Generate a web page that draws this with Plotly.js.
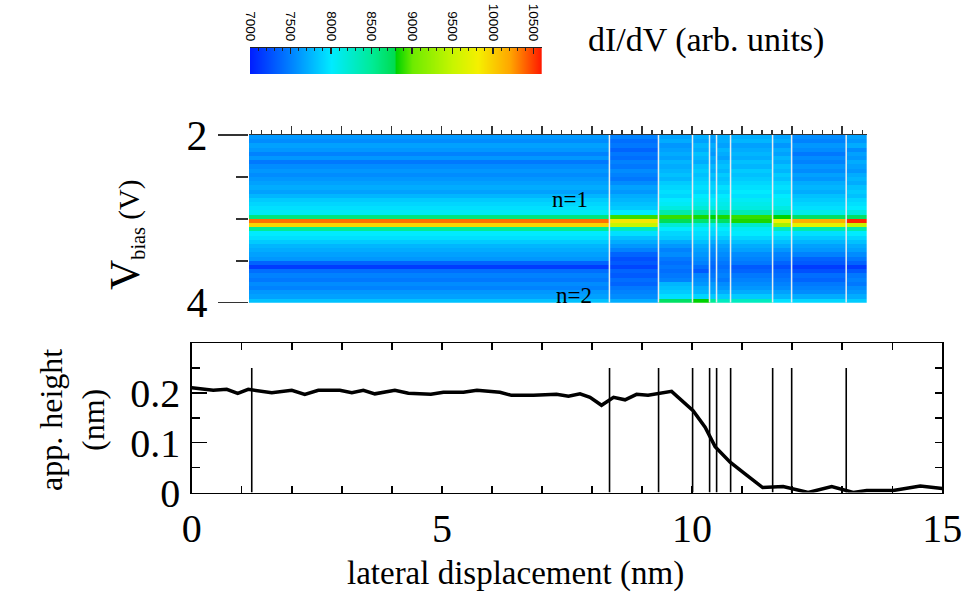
<!DOCTYPE html>
<html><head><meta charset="utf-8">
<script src="https://cdn.plot.ly/plotly-3.0.1.min.js"></script>
<style>html,body{margin:0;padding:0;background:#fff}#chart{width:964px;height:596px}</style>
</head><body><div id="chart"></div>
<script>
// ---- data ----
const biasV = [2.025,2.075,2.125,2.175,2.225,2.275,2.325,2.375,2.425,2.475,
  2.525,2.575,2.625,2.675,2.725,2.775,2.825,2.875,2.925,2.975,
  3.025,3.075,3.125,3.175,3.225,3.275,3.325,3.375,3.425,3.475,
  3.525,3.575,3.625,3.675,3.725,3.775,3.825,3.875,3.925,3.975];
const heatEdges = [1.15,8.35,9.33,10.01,10.35,10.49,10.77,11.61,11.99,13.08,13.49];
const spec1 = [7600,7550,7650,7600,7500,7600,7450,7550,7600,7550,7600,7650,7700,7650,7750,7850,7900,7950,8050,8600,10350,9950,8500,8000,7950,7850,7750,7700,7650,7600,7350,7150,7400,7500,7450,7550,7500,7600,7650,7800];
const spec2 = [7500,7400,7450,7350,7450,7400,7500,7450,7550,7500,7450,7550,7650,7600,7700,7750,7800,7850,8000,8900,9850,9500,8300,7950,7800,7700,7600,7500,7350,7250,7300,7200,7350,7300,7400,7350,7450,7500,7550,7700];
const spec3 = [7650,7700,7600,7650,7700,7650,7750,7700,7750,7800,7750,7850,7900,7950,7900,8000,8050,8150,8400,8900,8750,8200,8000,7900,7850,7700,7600,7500,7550,7450,7400,7450,7400,7450,7500,7750,7800,7850,7950,8700];
const spec4 = [7700,7650,7750,7700,7800,7750,7700,7800,7850,7800,7850,7900,7950,7900,8000,8050,8100,8200,8450,8850,8650,8150,8000,7950,7900,7800,7700,7650,7600,7550,7500,7400,7300,7500,7550,7600,7700,7750,7900,8800];
const spec5 = [7650,7600,7700,7650,7600,7700,7650,7750,7700,7800,7750,7850,7900,7850,7950,8000,8050,8150,8400,8800,8650,8100,7950,7900,7800,7700,7600,7550,7500,7450,7400,7350,7400,7450,7500,7600,7650,7700,7850,8500];
const spec6 = [7700,7700,7650,7750,7700,7650,7750,7800,7750,7850,7800,7850,7950,7900,8000,8050,8100,8150,8400,8850,8700,8150,8000,7950,7850,7750,7650,7600,7550,7500,7450,7400,7450,7500,7450,7550,7600,7700,7850,8300];
const spec7 = [7700,7750,7650,7700,7750,7700,7800,7750,7850,7800,7850,7900,7950,8000,7950,8050,8100,8150,8350,8900,8850,8250,8050,8000,7900,7800,7700,7650,7550,7500,7450,7300,7350,7450,7500,7550,7600,7700,7850,8300];
const spec8 = [7650,7700,7600,7700,7650,7750,7700,7800,7750,7850,7800,7900,7950,7900,8000,8050,8050,8150,8300,8800,9750,9300,8300,8000,7900,7800,7700,7600,7500,7450,7350,7250,7350,7400,7450,7500,7550,7650,7750,7950];
const spec9 = [7550,7500,7600,7550,7450,7550,7500,7600,7550,7650,7600,7700,7750,7700,7800,7850,7900,7950,8100,8700,10150,9700,8400,7950,7850,7750,7650,7600,7500,7350,7300,7150,7250,7400,7350,7450,7500,7550,7700,7900];
const spec10 = [7650,7600,7700,7550,7650,7600,7700,7650,7600,7700,7750,7700,7800,7850,7800,7900,7950,8000,8150,8700,10550,9500,8400,8000,7900,7800,7700,7650,7550,7450,7350,7150,7300,7450,7500,7450,7550,7600,7700,7850];
const specPos = [1.20,8.35,9.33,10.01,10.35,10.49,10.77,11.61,11.99,13.08];
const profX = [0,0.43,0.70,0.92,1.13,1.36,1.60,2.0,2.26,2.53,2.96,3.2,3.43,3.66,4.06,4.33,4.78,5.03,5.43,5.70,6.16,6.39,6.83,7.29,7.53,7.76,7.96,8.19,8.43,8.66,8.89,9.12,9.59,10.02,10.26,10.46,10.76,11.09,11.41,11.82,12.32,12.79,13.22,13.49,14.02,14.56,15.0];
const profY = [0.210,0.205,0.207,0.199,0.207,0.203,0.200,0.205,0.197,0.205,0.205,0.200,0.205,0.198,0.205,0.199,0.197,0.201,0.201,0.205,0.201,0.195,0.195,0.197,0.193,0.198,0.191,0.175,0.191,0.186,0.197,0.195,0.203,0.164,0.131,0.092,0.061,0.035,0.010,0.012,0.0,0.012,0.0,0.004,0.004,0.013,0.008];
const lineTop = 0.25;
const cbMin = 7000, cbMax = 10600;
const cbTicks = [7000,7500,8000,8500,9000,9500,10000,10500];
const cbLabels = ['7000','7500','8000','8500','9000','9500','10000','10500'];

// ---- styles ----
const jet = [[0,'rgb(0,30,255)'],[0.139,'rgb(0,130,255)'],[0.278,'rgb(0,235,255)'],[0.417,'rgb(0,235,150)'],[0.494,'rgb(0,220,80)'],[0.5,'rgb(0,210,0)'],[0.556,'rgb(110,235,0)'],[0.694,'rgb(200,245,0)'],[0.78,'rgb(245,240,0)'],[0.89,'rgb(255,165,0)'],[1,'rgb(255,20,0)']];
const W = 964, H = 596;
const px = v => v / W, py = v => 1 - v / H;
const serif = 'Liberation Serif, Times New Roman, serif';

const specs = [spec1,spec2,spec3,spec4,spec5,spec6,spec7,spec8,spec9,spec10];
const z = biasV.map((v, r) => specs.map(s => s[r]));

function vlines(pos, y0, y1) {
  const xs = [], ys = [];
  pos.forEach(p => { xs.push(p, p, null); ys.push(y0, y1, null); });
  return {xs, ys};
}
const wl = vlines(specPos.slice(1), 2, 4);
const bl = vlines(specPos, 0, lineTop);

const traces = [
  {type:'heatmap', x: heatEdges, y: biasV, z: z, xaxis:'x2', yaxis:'y2',
   zmin: cbMin, zmax: cbMax, colorscale: jet, zsmooth:false, showscale:false},
  // colour bar: the colour scale drawn across its value range
  {type:'heatmap', x:[cbMin, cbMax], y:[0,1], z:[[cbMin, cbMax]], xaxis:'x3', yaxis:'y3',
   zmin: cbMin, zmax: cbMax, colorscale: jet, zsmooth:'best', showscale:false},
  {type:'scatter', mode:'lines', x: wl.xs, y: wl.ys, xaxis:'x2', yaxis:'y2',
   line:{color:'rgb(230,235,240)', width:1.5}, showlegend:false},
  {type:'scatter', mode:'lines', x: bl.xs, y: bl.ys, xaxis:'x', yaxis:'y',
   line:{color:'#000', width:1.6}, showlegend:false},
  {type:'scatter', mode:'lines', x: profX, y: profY, xaxis:'x', yaxis:'y',
   line:{color:'#000', width:3.5}, showlegend:false},
  {type:'scatter', x:[], y:[], xaxis:'x', yaxis:'y4', showlegend:false}
];

const ann = (text, x, y, size, extra) => Object.assign({text, xref:'paper', yref:'paper', x:px(x), y:py(y),
  xanchor:'center', yanchor:'middle', showarrow:false, font:{size, family:serif, color:'#000'}}, extra || {});

const layout = {
  width: W, height: H, margin:{l:0,r:0,t:0,b:0},
  paper_bgcolor:'#fff', plot_bgcolor:'rgba(0,0,0,0)', showlegend:false,
  font:{family: serif, color:'#000'},
  xaxis:{domain:[px(191.7), px(942.3)], range:[0,15], anchor:'y', dtick:5, tick0:0,
    ticks:'inside', ticklen:7, tickwidth:1.5, tickcolor:'#000',
    minor:{dtick:1, tick0:0, ticks:'inside', ticklen:7, tickwidth:1.5, tickcolor:'#000'},
    showline:true, linewidth:1.5, linecolor:'#000', mirror:'ticks',
    showgrid:false, zeroline:false, tickfont:{size:40, family:serif}},
  yaxis:{domain:[py(492.5), py(343)], range:[0,0.3], anchor:'x', tickvals:[0,0.1,0.2], ticktext:['0','0.1','0.2'],
    ticks:'inside', ticklen:15, tickwidth:1.5, tickcolor:'#000',
    minor:{tickvals:[0.05,0.15,0.25], ticks:'inside', ticklen:8, tickwidth:1.5, tickcolor:'#000'},
    showline:true, linewidth:1.5, linecolor:'#000', mirror:true,
    showgrid:false, zeroline:false, tickfont:{size:40, family:serif}, ticklabelstandoff:2},
  yaxis4:{overlaying:'y', side:'right', anchor:'x', range:[0,0.3], tickvals:[0.05,0.1,0.15,0.2,0.25],
    ticks:'inside', ticklen:7, tickwidth:1.5, tickcolor:'#000', showticklabels:false,
    showline:false, showgrid:false, zeroline:false},
  xaxis2:{domain:[px(249), px(866.7)], range:[1.15,13.49], anchor:'y2', side:'top', dtick:1, tick0:0,
    ticks:'outside', ticklen:8, tickwidth:1.5, tickcolor:'#333',
    minor:{dtick:0.2, tick0:0, ticks:'outside', ticklen:4, tickwidth:1.2, tickcolor:'#333'},
    showline:true, linewidth:1.5, linecolor:'#333', showticklabels:false, showgrid:false, zeroline:false},
  yaxis2:{domain:[py(302.7), py(135)], range:[4,2], anchor:'x2', tickvals:[2,4], ticktext:['2','4'],
    ticks:'outside', ticklen:30, tickwidth:1.5, tickcolor:'#333',
    minor:{tickvals:[2.5,3,3.5], ticks:'outside', ticklen:12, tickwidth:1.5, tickcolor:'#333'},
    showline:false, showgrid:false, zeroline:false, tickfont:{size:42, family:serif}, ticklabelstandoff:2},
  xaxis3:{domain:[px(250), px(541.7)], range:[cbMin, cbMax], anchor:'y3', side:'top',
    tickvals: cbTicks, ticktext: cbLabels, ticks:'inside', ticklen:6, tickwidth:1.2, tickcolor:'#222',
    minor:{dtick:100, tick0:7000, ticks:'inside', ticklen:3, tickwidth:1, tickcolor:'#222'},
    tickangle:90, tickfont:{size:13.5, family:'Liberation Sans, Arial, sans-serif', color:'#000'},
    showline:true, linewidth:1, linecolor:'#222', showgrid:false, zeroline:false, ticklabelstandoff:1},
  yaxis3:{domain:[py(74), py(48)], range:[0,1], anchor:'x3', visible:false},
  annotations:[
    ann('dI/dV (arb. units)', 706, 40, 34),
    {text:'n=1', xref:'x2', yref:'y2', x:7.56, y:2.775, showarrow:false, xanchor:'center', yanchor:'middle',
     font:{size:23, family:serif, color:'#000'}},
    {text:'n=2', xref:'x2', yref:'y2', x:7.64, y:3.91, showarrow:false, xanchor:'center', yanchor:'middle',
     font:{size:23, family:serif, color:'#000'}},
    ann('<span style="font-size:42px">V</span><sub>bias</sub> (V)', 126, 235, 29, {textangle:-90}),
    ann('app. height<br>(nm)', 72, 420, 32, {textangle:-90}),
    ann('lateral displacement (nm)', 515, 573, 33)
  ]
};
Plotly.newPlot('chart', traces, layout, {staticPlot:true, displayModeBar:false});
</script></body></html>
